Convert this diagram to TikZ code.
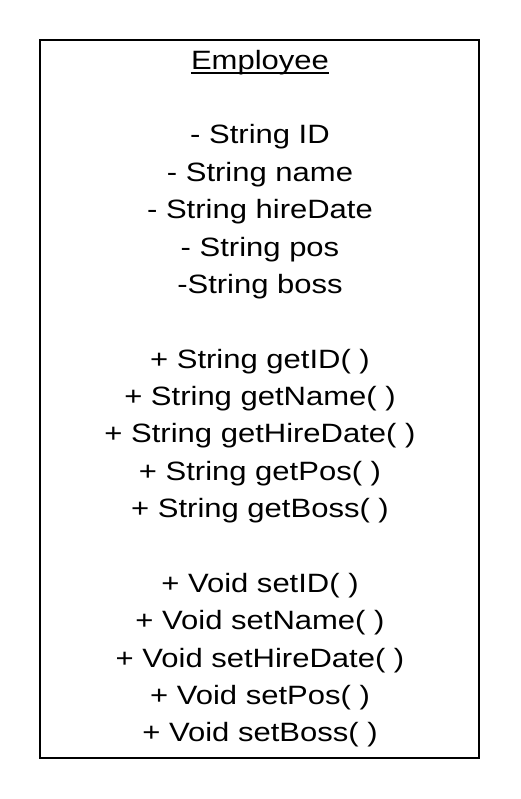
\documentclass[tikz,border=0pt]{standalone}
\usepackage{fontspec}
\setmainfont{Liberation Sans}
\newfontfamily\memberfont[FakeStretch=1.17]{Liberation Sans}
\usetikzlibrary{positioning}

\tikzset{
  member/.style={inner sep=0pt, anchor=base, font=\memberfont\fontsize{26.5}{30}\selectfont},
  classbox/.style={draw, line width=1.6pt}
}

\begin{document}
\begin{tikzpicture}[x=1pt, y=-1pt]

  % Page frame
  \useasboundingbox (0,0) rectangle (520,799);

  % Class box
  \draw[classbox] (40,40) rectangle (479,758);

  % Class name
  \node[member] (name) at (260,69.3) {Employee};
  \draw[line width=1.3pt] ([yshift=-3.6pt]name.base west) -- ([yshift=-3.6pt]name.base east);

  % Attributes
  \node[member] (attrID)   at (260,144.0) {- String ID};
  \node[member] (attrName) at (260,181.4) {- String name};
  \node[member] (attrHire) at (260,218.7) {- String hireDate};
  \node[member] (attrPos)  at (260,256.1) {- String pos};
  \node[member] (attrBoss) at (260,293.5) {-String boss};

  % Getters
  \node[member] (getID)   at (260,368.2) {+ String getID( )};
  \node[member] (getName) at (260,405.6) {+ String getName( )};
  \node[member] (getHire) at (260,442.9) {+ String getHireDate( )};
  \node[member] (getPos)  at (260,480.3) {+ String getPos( )};
  \node[member] (getBoss) at (260,517.7) {+ String getBoss( )};

  % Setters
  \node[member] (setID)   at (260,592.3) {+ Void setID( )};
  \node[member] (setName) at (260,629.7) {+ Void setName( )};
  \node[member] (setHire) at (260,667.1) {+ Void setHireDate( )};
  \node[member] (setPos)  at (260,704.4) {+ Void setPos( )};
  \node[member] (setBoss) at (260,741.8) {+ Void setBoss( )};

\end{tikzpicture}
\end{document}
